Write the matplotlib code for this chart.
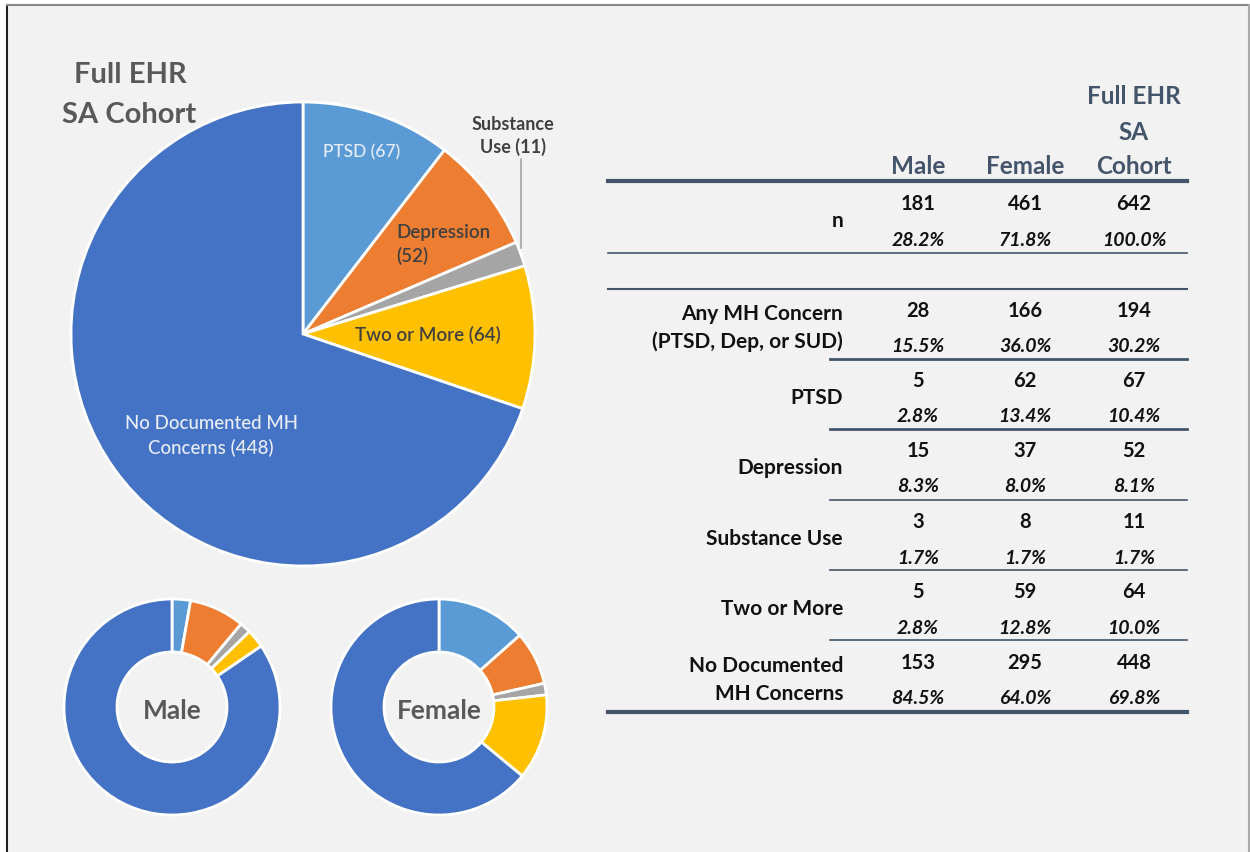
import numpy as np
import matplotlib.pyplot as plt

# categories and counts
cats = ["PTSD", "Depression", "Substance Use", "Two or More", "No Documented MH Concerns"]
full = [67, 52, 11, 64, 448]
male = [5, 15, 3, 5, 153]
female = [62, 37, 8, 59, 295]
colors = ["#5b9bd5", "#ed7d31", "#a5a5a5", "#ffc000", "#4472c4"]

# table contents
row_labels = ["n", "Any MH Concern\n(PTSD, Dep, or SUD)", "PTSD", "Depression",
              "Substance Use", "Two or More", "No Documented\nMH Concerns"]
male_n = [181, 28, 5, 15, 3, 5, 153]
female_n = [461, 166, 62, 37, 8, 59, 295]
total_n = [642, 194, 67, 52, 11, 64, 448]
male_pct = ["28.2%", "15.5%", "2.8%", "8.3%", "1.7%", "2.8%", "84.5%"]
female_pct = ["71.8%", "36.0%", "13.4%", "8.0%", "1.7%", "12.8%", "64.0%"]
total_pct = ["100.0%", "30.2%", "10.4%", "8.1%", "1.7%", "10.0%", "69.8%"]
col_heads = ["Male", "Female", "Full EHR\nSA\nCohort"]

W, H = 1250, 853
plt.rcParams['font.family'] = ['Lato', 'DejaVu Sans']

fig = plt.figure(figsize=(12.5, 8.53), dpi=100)
fig.patch.set_facecolor("white")
ax = fig.add_axes([0, 0, 1, 1])


def Y(y):
    return H - y


grey = "#595959"
navy = "#44546a"
dark = "#404040"

# background panel with border
ax.add_patch(plt.Rectangle((7, 0), W - 8, Y(6), facecolor="#f2f2f2",
                           edgecolor="none", zorder=0))
ax.plot([7, 7], [0, Y(6)], color="#222222", lw=1.5, zorder=1)
ax.plot([7, W - 1], [Y(6), Y(6)], color="#888888", lw=1.5, zorder=1)
ax.plot([W - 1, W - 1], [0, Y(6)], color="#aaaaaa", lw=1.5, zorder=1)

# big pie
cx, cy, r = 303, 335, 232
wedges, _ = ax.pie(full, colors=colors, startangle=90, counterclock=False,
                   center=(cx, Y(cy)), radius=r,
                   wedgeprops=dict(edgecolor="white", linewidth=2))

# donuts
for vals, x0, name in [(male, 172, "Male"), (female, 439, "Female")]:
    ax.pie(vals, colors=colors, startangle=90, counterclock=False,
           center=(x0, Y(708)), radius=108,
           wedgeprops=dict(width=53, edgecolor="white", linewidth=2))
    ax.text(x0, Y(711), name, ha="center", va="center", fontsize=19,
            fontweight="bold", color=grey)

ax.set_xlim(0, W)
ax.set_ylim(0, H)
ax.set_aspect("equal")
ax.axis("off")

# titles and pie labels
ax.text(130, Y(75), "Full EHR", ha="center", va="center", fontsize=21,
        fontweight="bold", color=grey)
ax.text(129, Y(115), "SA Cohort", ha="center", va="center", fontsize=21,
        fontweight="bold", color=grey)

ax.text(362, Y(152), "PTSD (67)", ha="center", va="center", fontsize=12.5,
        color="#e8eef8", fontweight="medium")
ax.text(396, Y(245), "Depression\n(52)", ha="left", va="center", fontsize=13.5,
        color=dark, fontweight="semibold", linespacing=1.4)
ax.text(428, Y(335), "Two or More (64)", ha="center", va="center",
        fontsize=13.5, color=dark, fontweight="semibold")
ax.text(211, Y(436), "No Documented MH\nConcerns (448)", ha="center",
        va="center", fontsize=13.5, color="#e8eef8", fontweight="medium",
        linespacing=1.45)
ax.text(513, Y(136), "Substance\nUse (11)", ha="center", va="center",
        fontsize=13, color=dark, fontweight="bold", linespacing=1.3)

# leader line to substance wedge
w = wedges[2]
mid = np.deg2rad((w.theta1 + w.theta2) / 2)
ex, ey = cx + r * np.cos(mid), Y(cy) + r * np.sin(mid)
ax.plot([ex, ex], [ey + 6, Y(160)], color="#a5a5a5", lw=1.2)

# table
xl, xr = 608, 1187
lab_x = 843
col_x = [918, 1025, 1134]

# column headers, bottom line aligned at y=167, 35 px per line
for j, head in enumerate(col_heads):
    lines = head.split("\n")
    for k, line in enumerate(lines):
        yy = 167 - 35 * (len(lines) - 1 - k)
        ax.text(col_x[j], Y(yy), line, ha="center", va="center",
                fontsize=17.5, fontweight="bold", color=navy)

row_top = [204, 311, 381, 451, 522, 592, 663]
for i, lab in enumerate(row_labels):
    y1 = row_top[i]
    y2 = y1 + 36
    ax.text(lab_x, Y((y1 + y2) / 2 - 1), lab, ha="right", va="center",
            fontsize=15, fontweight="bold", color="#111111", linespacing=1.5)
    for j, (nv, pv) in enumerate(zip([male_n, female_n, total_n],
                                      [male_pct, female_pct, total_pct])):
        ax.text(col_x[j], Y(y1), str(nv[i]), ha="center", va="center",
                fontsize=14.5, fontweight="bold", color="#111111")
        ax.text(col_x[j], Y(y2), pv[i], ha="center", va="center",
                fontsize=14, fontweight="bold", fontstyle="italic",
                color="#111111")

# rules
ax.plot([xl, xr], [Y(182), Y(182)], color=navy, lw=3)
ax.plot([xl, xr], [Y(254), Y(254)], color=navy, lw=1.2)
ax.plot([xl, xr], [Y(290), Y(290)], color=navy, lw=1.5)
for yy, lw in [(360, 2), (430, 2), (501, 1.2), (571, 1.2), (641, 1.2)]:
    ax.plot([830, xr], [Y(yy), Y(yy)], color=navy, lw=lw)
ax.plot([xl, xr], [Y(713), Y(713)], color=navy, lw=3)

fig.savefig("out.png", dpi=100, facecolor=fig.get_facecolor())
